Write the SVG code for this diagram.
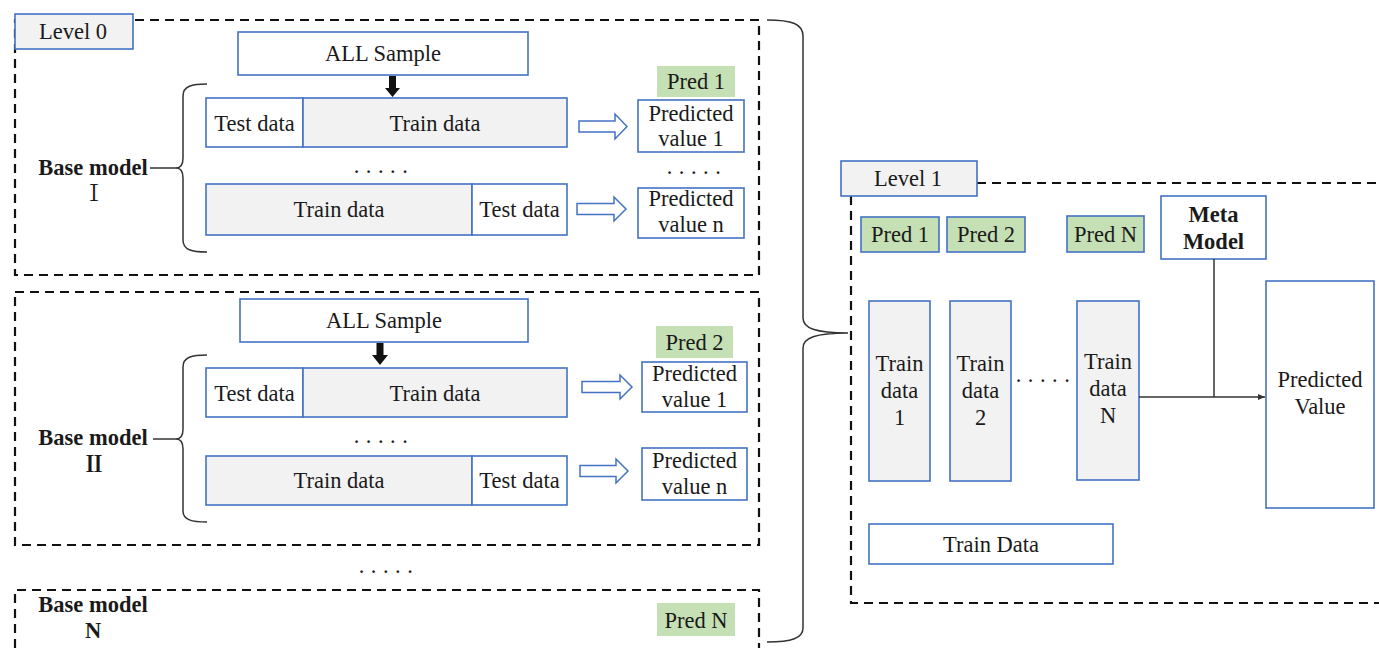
<svg xmlns="http://www.w3.org/2000/svg" width="1379" height="648" viewBox="0 0 1379 648">
<defs>
<style>
text{font-family:"Liberation Serif","Times New Roman",Tinos,serif;font-size:22.5px;fill:#1a1a1a;text-anchor:middle}
.b{font-weight:bold}
.rn{font-family:"Liberation Serif","Noto Serif CJK SC","Noto Sans CJK SC",serif}
.dash{fill:none;stroke:#111;stroke-width:2.2;stroke-dasharray:9 6}
.box{fill:#fff;stroke:#4472c4;stroke-width:1.6}
.gray{fill:#f2f2f2;stroke:#4472c4;stroke-width:1.6}
.green{fill:#c5e0b4}
.greenb{fill:#c5e0b4;stroke:#4472c4;stroke-width:1.6}
.hollow{fill:#fff;stroke:#4472c4;stroke-width:1.5}
.brace{fill:none;stroke:#333;stroke-width:1.5}
.dots{letter-spacing:6.5px}
</style>
<marker id="ah" markerWidth="8" markerHeight="8" refX="7" refY="4" orient="auto" markerUnits="userSpaceOnUse">
<path d="M0,1 L7,4 L0,7 z" fill="#333"/>
</marker>
</defs>
<rect width="1379" height="648" fill="#fff"/>

<g id="level0-frames">
<rect class="dash" x="15" y="20" width="744" height="255"/>
<rect class="dash" x="15" y="292" width="744" height="253"/>
<path class="dash" d="M15,648 V590 H759 V648"/>
</g>

<g id="level0-label">
<rect class="gray" x="15" y="14" width="118" height="35"/>
<text x="73" y="39">Level 0</text>
</g>

<g id="model1">
<rect class="box" x="238" y="32" width="290" height="43"/>
<text x="383" y="61">ALL Sample</text>
<polygon points="389,76 396,76 396,88 400,88 392.5,97 385,88 389,88" fill="#111"/>
<rect class="box" x="206" y="98" width="97" height="49"/>
<text x="254.5" y="131">Test data</text>
<rect class="gray" x="303" y="98" width="264" height="49"/>
<text x="435" y="131">Train data</text>
<text class="dots" x="384" y="173">.....</text>
<rect class="gray" x="206" y="184" width="266" height="51"/>
<text x="339" y="217">Train data</text>
<rect class="box" x="472" y="184" width="95" height="51"/>
<text x="519.5" y="217">Test data</text>
<polygon class="hollow" points="579,121 615,121 615,114 627,126.5 615,139 615,132 579,132"/>
<polygon class="hollow" points="577,203.5 614,203.5 614,197 626,209 614,221 614,214.5 577,214.5"/>
<rect class="green" x="657" y="66" width="78" height="31"/>
<text x="696" y="89">Pred 1</text>
<rect class="box" x="638" y="100" width="106" height="52"/>
<text x="691" y="121">Predicted</text>
<text x="691" y="146">value 1</text>
<text class="dots" x="697" y="174">.....</text>
<rect class="box" x="638" y="188" width="106" height="50"/>
<text x="691" y="206">Predicted</text>
<text x="691" y="232">value n</text>
<path class="brace" d="M207,84 C192,84 183,86 183,96 L183,158 C183,165 181,168 176,168 C181,168 183,171 183,178 L183,240 C183,250 192,252 207,252"/>
<line x1="150" y1="168" x2="176" y2="168" stroke="#333" stroke-width="1.5"/>
<text class="b" x="93" y="175">Base model</text>
<text class="rn" x="94" y="201">Ⅰ</text>
</g>

<g id="model2">
<rect class="box" x="240" y="299" width="288" height="43"/>
<text x="384" y="328">ALL Sample</text>
<polygon points="376.5,343 383.5,343 383.5,355 388,355 380,365 372,355 376.5,355" fill="#111"/>
<rect class="box" x="206" y="368" width="97" height="49"/>
<text x="254.5" y="401">Test data</text>
<rect class="gray" x="303" y="368" width="264" height="49"/>
<text x="435" y="401">Train data</text>
<text class="dots" x="384" y="443">.....</text>
<rect class="gray" x="206" y="456" width="266" height="49"/>
<text x="339" y="488">Train data</text>
<rect class="box" x="472" y="456" width="95" height="49"/>
<text x="519.5" y="488">Test data</text>
<polygon class="hollow" points="582,381.5 620,381.5 620,375 632,387 620,399 620,392.5 582,392.5"/>
<polygon class="hollow" points="580,465.5 616,465.5 616,459 628,471 616,483 616,476.5 580,476.5"/>
<rect class="green" x="656" y="326" width="77" height="32"/>
<text x="694.5" y="350">Pred 2</text>
<rect class="box" x="642" y="362" width="105" height="50"/>
<text x="694.5" y="381">Predicted</text>
<text x="694.5" y="407">value 1</text>
<rect class="box" x="642" y="448" width="105" height="52"/>
<text x="694.5" y="468">Predicted</text>
<text x="694.5" y="494">value n</text>
<path class="brace" d="M207,355 C192,355 183,357 183,367 L183,429 C183,436 181,439 176,439 C181,439 183,442 183,449 L183,511 C183,520 192,522 207,522"/>
<line x1="153" y1="439" x2="176" y2="439" stroke="#333" stroke-width="1.5"/>
<text class="b" x="93" y="445">Base model</text>
<text class="rn b" x="94" y="472">Ⅱ</text>
</g>

<g id="between-dots">
<text class="dots" x="389" y="573">.....</text>
</g>

<g id="modelN">
<text class="b" x="93" y="612">Base model</text>
<text class="b" x="93" y="638">N</text>
<rect class="green" x="657" y="603" width="78" height="33"/>
<text x="696" y="628">Pred N</text>
</g>

<g id="big-brace">
<path class="brace" d="M767,20 C792,20 803,24 803,36 L803,318 C803,328 815,333 848,333 C815,333 803,338 803,348 L803,628 C803,638 792,642 767,642"/>
</g>

<g id="level1-frame">
<path class="dash" d="M977,183 H1379 M851,196 V603 H1379"/>
</g>

<g id="level1-label">
<rect class="gray" x="841" y="161" width="136" height="35"/>
<text x="908" y="186">Level 1</text>
</g>

<g id="level1-preds">
<rect class="greenb" x="861" y="217" width="78" height="35"/>
<text x="900" y="242">Pred 1</text>
<rect class="greenb" x="947" y="217" width="78" height="35"/>
<text x="986" y="242">Pred 2</text>
<rect class="greenb" x="1067" y="216" width="77" height="36"/>
<text x="1105.5" y="242">Pred N</text>
</g>

<g id="meta-model">
<rect class="box" x="1161" y="196" width="105" height="63"/>
<text class="b" x="1213.5" y="222">Meta</text>
<text class="b" x="1213.5" y="249">Model</text>
</g>

<g id="train-data-cols">
<rect class="gray" x="869" y="301" width="61" height="180"/>
<text x="899.5" y="371">Train</text>
<text x="899.5" y="398">data</text>
<text x="899.5" y="425">1</text>
<rect class="gray" x="950" y="301" width="61" height="180"/>
<text x="980.5" y="371">Train</text>
<text x="980.5" y="398">data</text>
<text x="980.5" y="425">2</text>
<text class="dots" x="1046" y="382">.....</text>
<rect class="gray" x="1077" y="301" width="62" height="179"/>
<text x="1108" y="369">Train</text>
<text x="1108" y="396">data</text>
<text x="1108" y="423">N</text>
</g>

<g id="predicted-value">
<rect class="box" x="1266" y="281" width="108" height="227"/>
<text x="1320" y="387">Predicted</text>
<text x="1320" y="414">Value</text>
</g>

<g id="train-data">
<rect class="box" x="869" y="524" width="244" height="40"/>
<text x="991" y="552">Train Data</text>
</g>

<g id="connectors">
<line x1="1139" y1="397" x2="1265" y2="397" stroke="#333" stroke-width="1.5" marker-end="url(#ah)"/>
<line x1="1214" y1="259" x2="1214" y2="397" stroke="#333" stroke-width="1.5"/>
</g>
</svg>
